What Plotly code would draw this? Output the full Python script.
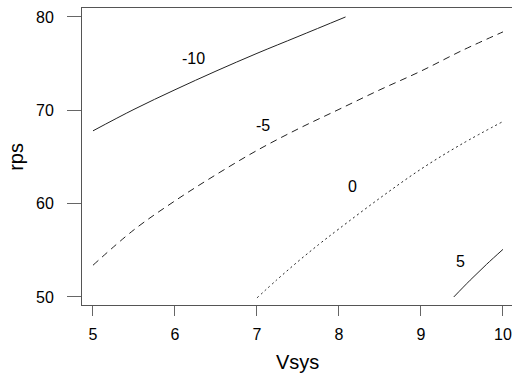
import plotly.graph_objects as go

# contour lines (Vsys, rps)
m10_x = [5.0, 5.5, 6.0, 6.5, 7.0, 7.5, 8.08]
m10_y = [67.8, 70.1, 72.2, 74.2, 76.1, 77.9, 80.0]
m5_x = [5.0, 5.5, 6.0, 6.5, 7.0, 7.5, 8.0, 8.5, 9.0, 9.5, 10.0]
m5_y = [53.4, 57.2, 60.3, 63.1, 65.7, 68.0, 70.1, 72.2, 74.2, 76.4, 78.4]
z0_x = [7.0, 7.25, 7.5, 7.75, 8.0, 8.5, 9.0, 9.5, 10.0]
z0_y = [49.9, 51.9, 53.8, 55.6, 57.3, 60.6, 63.7, 66.4, 68.8]
p5_x = [9.4, 9.6, 9.8, 10.0]
p5_y = [50.0, 51.8, 53.5, 55.1]

label_text = ["-10", "-5", "0", "5"]
label_x = [6.22, 7.07, 8.16, 9.48]
label_y = [75.6, 68.4, 61.8, 53.75]

xticks = [5, 6, 7, 8, 9, 10]
yticks = [50, 60, 70, 80]

FONT = "Liberation Sans, Arial"

fig = go.Figure()
lc = "#222222"
fig.add_trace(go.Scatter(x=m10_x, y=m10_y, mode="lines", line=dict(color=lc, width=1, shape="spline")))
fig.add_trace(go.Scatter(x=m5_x, y=m5_y, mode="lines", line=dict(color=lc, width=1, dash="7px,5px", shape="spline")))
fig.add_trace(go.Scatter(x=z0_x, y=z0_y, mode="lines", line=dict(color=lc, width=1, dash="2px,3px", shape="spline")))
fig.add_trace(go.Scatter(x=p5_x, y=p5_y, mode="lines", line=dict(color=lc, width=1, shape="spline")))

for t, x, y in zip(label_text, label_x, label_y):
    fig.add_annotation(x=x, y=y, text=t, showarrow=False,
                       font=dict(family=FONT, size=16, color="black"))

fig.add_annotation(xref="paper", yref="paper", x=0.5, y=-0.192, yanchor="middle",
                   text="Vsys", showarrow=False,
                   font=dict(family=FONT, size=20, color="black"))
fig.add_annotation(xref="paper", yref="paper", x=-0.155, y=0.5, xanchor="center",
                   text="rps", textangle=-90, showarrow=False,
                   font=dict(family=FONT, size=20, color="black"))

fig.update_layout(
    width=512, height=376,
    margin=dict(l=82, r=0, t=8, b=71),
    paper_bgcolor="white", plot_bgcolor="white",
    showlegend=False,
    font=dict(family=FONT, size=16, color="black"),
)
fig.update_xaxes(range=[4.866, 10.110], tickvals=xticks, ticks="outside", ticklen=10,
                 tickcolor="#666", showline=True, linecolor="#555", linewidth=1,
                 mirror=True, showgrid=False, zeroline=False,
                 tickfont=dict(size=16), ticklabelstandoff=5)
fig.update_yaxes(range=[49.14, 80.96], tickvals=yticks, ticks="outside", ticklen=14,
                 tickcolor="#666", showline=True, linecolor="#555", linewidth=1,
                 mirror=False, showgrid=False, zeroline=False,
                 tickfont=dict(size=16), ticklabelstandoff=10)

fig.write_html("out.html")
